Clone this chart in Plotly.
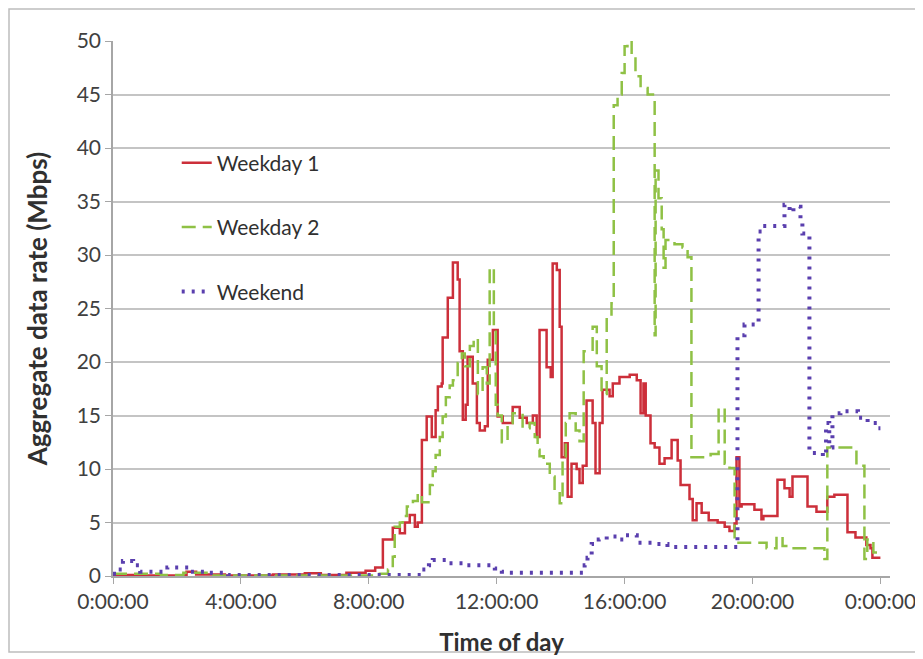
import plotly.graph_objects as go

# ---- data (hours of day, Mbps) ----
wd1_hours = [0, 1.0, 2.3, 2.6, 3.5, 5.0, 6.0, 6.5, 7.3, 7.9, 8.2,
             8.44, 8.75, 8.97, 9.13, 9.28, 9.44, 9.53, 9.66, 9.81, 9.97,
             10.09, 10.16, 10.28, 10.31, 10.47, 10.63, 10.78, 10.84, 10.94, 11.03,
             11.09, 11.25, 11.38, 11.47, 11.63, 11.72, 11.88, 12.03, 12.19, 12.5,
             12.72, 12.94, 13.13, 13.25, 13.34, 13.56, 13.69, 13.75, 13.88, 13.97,
             14.03, 14.13, 14.22, 14.34, 14.5, 14.59, 14.69, 14.81, 15.0, 15.09,
             15.22, 15.31, 15.53, 15.63, 15.84, 16.16, 16.38, 16.5, 16.59, 16.66,
             16.81, 16.94, 17.09, 17.25, 17.47, 17.66, 17.75, 18.03, 18.13, 18.25,
             18.41, 18.63, 18.91, 19.13, 19.28, 19.44, 19.5, 19.59, 19.66, 20.06,
             20.28, 20.34, 20.78, 21.0, 21.16, 21.25, 21.72, 22.0, 22.34, 22.56,
             22.97, 23.22, 23.56, 23.69, 23.75, 24.0]
wd1_values = [0.1, 0.05, 0.4, 0.15, 0.05, 0.15, 0.25, 0.1, 0.3, 0.5, 0.8,
              3.4, 4.5, 4.0, 5.0, 5.7, 4.6, 5.0, 12.7, 14.9, 13.0,
              15.5, 17.7, 18.0, 22.3, 26.0, 29.3, 27.7, 21.0, 14.6, 16.0,
              20.5, 18.0, 14.3, 13.6, 14.0, 20.2, 23.0, 14.9, 14.3, 15.8,
              14.8, 14.3, 15.0, 13.0, 23.0, 19.5, 18.6, 29.2, 28.6, 23.3,
              11.1, 12.4, 7.4, 10.5, 10.0, 8.7, 10.3, 16.4, 14.3, 9.6,
              14.3, 17.4, 16.8, 18.0, 18.6, 18.8, 18.3, 15.2, 18.0, 15.0,
              12.4, 12.0, 10.5, 11.0, 12.7, 10.8, 8.5, 7.2, 5.2, 6.8,
              5.9, 5.2, 5.0, 4.6, 4.2, 4.9, 11.1, 6.5, 6.7, 6.2,
              5.3, 5.6, 9.0, 8.2, 7.4, 9.3, 6.5, 6.0, 7.4, 7.6,
              4.1, 3.6, 2.9, 2.6, 1.7, 1.7]

wd2_hours = [0, 1.5, 2.2, 3.0, 8.2, 8.6, 8.75, 8.81, 8.97, 9.06, 9.19,
             9.38, 9.53, 9.66, 9.91, 10.0, 10.09, 10.22, 10.31, 10.41, 10.53,
             10.63, 10.78, 10.91, 11.0, 11.16, 11.28, 11.41, 11.56, 11.69, 11.78,
             11.91, 11.97, 12.03, 12.16, 12.34, 12.5, 12.81, 13.03, 13.19, 13.28,
             13.34, 13.47, 13.66, 13.81, 13.97, 14.06, 14.16, 14.28, 14.47, 14.59,
             14.72, 14.91, 15.0, 15.13, 15.28, 15.44, 15.59, 15.66, 15.78, 15.91,
             16.0, 16.09, 16.22, 16.34, 16.5, 16.72, 16.94, 16.97, 17.06, 17.16,
             17.22, 17.28, 17.56, 17.81, 17.97, 18.09, 18.69, 18.94, 19.13, 19.28,
             19.44, 20.44, 20.75, 20.94, 21.16, 22.25, 22.34, 23.25, 23.5, 23.59,
             23.78, 24.0]
wd2_values = [0.2, 0.1, 0.3, 0.05, 0.2, 0.6, 1.8, 4.6, 5.0, 5.6, 6.5,
              7.0, 7.7, 6.9, 8.5, 9.8, 11.3, 13.0, 14.9, 16.7, 17.8,
              18.3, 19.9, 20.8, 19.6, 21.5, 22.2, 17.0, 19.5, 18.0, 28.8,
              23.0, 16.0, 15.0, 12.5, 14.3, 15.2, 13.8, 14.3, 13.0, 11.8,
              11.2, 10.5, 9.3, 8.0, 6.8, 11.0, 14.3, 15.2, 13.6, 12.6,
              21.0, 21.0, 23.3, 19.6, 17.0, 24.3, 25.5, 44.0, 45.0, 47.0,
              49.5, 50.0, 48.5, 46.7, 45.6, 45.0, 22.5, 37.9, 35.3, 32.4,
              28.8, 31.4, 31.0, 30.7, 29.8, 11.1, 11.4, 15.7, 10.5, 10.1,
              3.1, 2.6, 3.7, 2.8, 2.6, 1.6, 12.0, 10.3, 1.6, 3.4,
              2.2, 2.2]

we_hours = [0, 0.15, 0.31, 0.63, 0.85, 1.7, 2.4, 3.0, 3.6, 9.6, 9.66,
            9.88, 10.0, 10.44, 11.06, 11.94, 12.16, 12.34, 14.59, 14.75, 14.84,
            14.97, 15.19, 15.44, 15.81, 16.0, 16.38, 17.0, 17.34, 19.5, 19.53,
            19.75, 20.19, 20.31, 21.0, 21.16, 21.28, 21.5, 21.56, 21.78, 22.2,
            22.3, 22.4, 22.5, 22.75, 23.3, 23.6, 23.9, 24.0]
we_values = [0.2, 0.6, 1.4, 1.0, 0.4, 0.8, 0.4, 0.3, 0.1, 0.1, 0.6,
             1.0, 1.5, 1.2, 1.0, 0.7, 0.4, 0.3, 0.3, 1.0, 1.7,
             3.0, 3.4, 3.7, 3.4, 3.8, 3.1, 3.0, 2.7, 2.7, 22.5,
             23.5, 32.2, 32.7, 34.7, 34.0, 34.5, 33.0, 32.0, 11.5, 11.2,
             14.3, 12.0, 15.2, 15.4, 14.8, 14.3, 13.8, 13.8]

tick_hours = [0, 4, 8, 12, 16, 20, 24]
tick_labels = ["0:00:00", "4:00:00", "8:00:00", "12:00:00", "16:00:00", "20:00:00", "0:00:00"]

FONT = "Lato, 'Open Sans', sans-serif"

fig = go.Figure()
fig.add_trace(go.Scatter(x=wd1_hours, y=wd1_values, name="Weekday 1", mode="lines",
                         line=dict(color="#cc2f3a", width=2.5, shape="hv"), legendgroup="a"))
fig.add_trace(go.Scatter(x=wd2_hours, y=wd2_values, name="Weekday 2", mode="lines",
                         line=dict(color="#8fc145", width=2.5, shape="hv", dash="14px,7px"), legendgroup="b"))
fig.add_trace(go.Scatter(x=we_hours, y=we_values, name="Weekend", mode="lines",
                         line=dict(color="#5a3fae", width=4, shape="hv", dash="3px,7px"), legendgroup="c"))

fig.update_layout(
    width=915, height=651,
    margin=dict(l=105, r=33, t=33, b=83),
    paper_bgcolor="white", plot_bgcolor="white",
    font=dict(family=FONT, size=21, color="#404040"),
    showlegend=True,
    legend=dict(x=0.082, y=0.81, xanchor="left", yanchor="top",
                bgcolor="rgba(0,0,0,0)", tracegroupgap=34,
                font=dict(size=21, color="#303030")),
    xaxis=dict(range=[0, 24.3], tickvals=tick_hours, ticktext=tick_labels, automargin=False,
               showgrid=False, zeroline=False, showline=True, linecolor="#a6a6a6", linewidth=1.5,
               ticks="outside", ticklen=6, tickcolor="#a6a6a6",
               title=dict(text="<b>Time of day</b>", standoff=22,
                          font=dict(size=24, color="#303030"))),
    yaxis=dict(range=[0, 50], tickvals=[0, 5, 10, 15, 20, 25, 30, 35, 40, 45, 50], automargin=False,
               showgrid=True, gridcolor="#c4c4c4", gridwidth=2, zeroline=False,
               showline=True, linecolor="#a6a6a6", linewidth=1.5,
               ticks="outside", ticklen=6, tickcolor="#a6a6a6",
               title=dict(text="<b>Aggregate data rate (Mbps)</b>", standoff=22,
                          font=dict(size=26, color="#303030"))),
    shapes=[dict(type="rect", xref="paper", yref="paper",
                 x0=-104 / 777, x1=1 + 40 / 777, y0=-76 / 535, y1=1 + 32 / 535,
                 line=dict(color="#bdbdbd", width=1.5), layer="below")],
)

fig.write_html("out.html")
